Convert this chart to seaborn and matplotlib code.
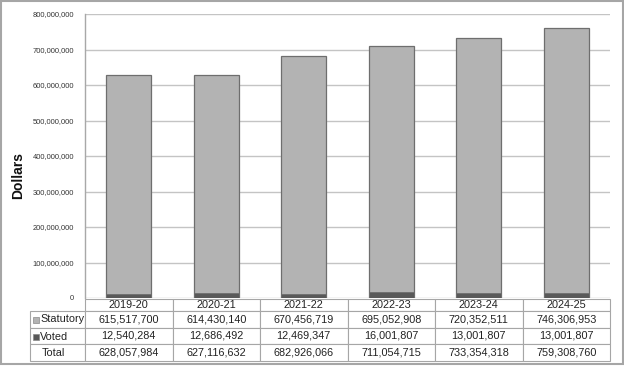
import matplotlib
matplotlib.use("Agg")
import matplotlib.pyplot as plt
from matplotlib.patches import Rectangle
import seaborn as sns

years = ["2019-20", "2020-21", "2021-22", "2022-23", "2023-24", "2024-25"]
statutory = [615517700, 614430140, 670456719, 695052908, 720352511, 746306953]
voted = [12540284, 12686492, 12469347, 16001807, 13001807, 13001807]
total = [628057984, 627116632, 682926066, 711054715, 733354318, 759308760]
row_labels = ["Statutory", "Voted", "Total"]
yticks = [0, 100000000, 200000000, 300000000, 400000000, 500000000,
          600000000, 700000000, 800000000]

sns.set_theme(style="white")
plt.rcParams["font.family"] = ["Liberation Sans", "DejaVu Sans"]

W, H = 624, 367
fig = plt.figure(figsize=(W / 100, H / 100), dpi=100)
fig.patch.set_facecolor("white")

L, R, T, B = 85, 610, 14, 298
ax = fig.add_axes([L / W, (H - B) / H, (R - L) / W, (B - T) / H])

stat_col = "#b3b3b3"
vot_col = "#595959"
edge = "#6e6e6e"

sns.barplot(x=years, y=total, color=stat_col, saturation=1, width=0.51,
            edgecolor=edge, linewidth=0.9, ax=ax, zorder=3)
sns.barplot(x=years, y=voted, color=vot_col, saturation=1, width=0.51,
            edgecolor=edge, linewidth=0.6, ax=ax, zorder=4)

ax.set_ylim(0, 800000000)
ax.set_xlim(-0.5, 5.5)
ax.set_yticks(yticks)
ax.set_yticklabels(["0" if v == 0 else f"{v:,}" for v in yticks],
                   fontsize=5.4, color="#333333")
ax.set_xticks([])
ax.set_xlabel("")
ax.set_ylabel("")
fig.text(18 / W, 1 - 175 / H, "Dollars", rotation=90, ha="center",
         va="center", fontsize=10, fontweight="bold", color="#111111")
ax.grid(axis="y", color="#c4c4c4", linewidth=1.0, zorder=0)
ax.tick_params(axis="y", length=0, pad=8)
for s in ["top", "right", "bottom"]:
    ax.spines[s].set_visible(False)
ax.spines["left"].set_color("#a8a8a8")
ax.spines["left"].set_linewidth(1.0)

# data table
axh = B - T
axw = R - L
tl = 30
y0 = -(361 - B) / axh
y1 = -(299 - B) / axh
rows = [["", *years],
        ["", *[f"{v:,}" for v in statutory]],
        ["", *[f"{v:,}" for v in voted]],
        ["", *[f"{v:,}" for v in total]]]
lw = 55
tbl = ax.table(cellText=rows, cellLoc="center",
               bbox=[-(L - tl) / axw, y0, (R - tl) / axw, y1 - y0])
tbl.auto_set_font_size(False)
tbl.set_fontsize(7.8)
rh = [12, 17, 16, 17]
for (r, c), cell in tbl.get_celld().items():
    cell.set_edgecolor("#a6a6a6")
    cell.set_linewidth(0.8)
    cell.set_height(rh[r] / axh)
    cell.set_width((lw if c == 0 else (R - L) / 6) / axw)
    cell.get_text().set_color("#222222")
    if r == 0 and c == 0:
        cell.visible_edges = ""

# row labels and legend swatches
centers = [319.5, 336.5, 353]
for i, (lab, yc) in enumerate(zip(row_labels, centers)):
    xt = 40 if i < 2 else 42
    ax.text((xt - L) / axw, -(yc - B) / axh, lab, transform=ax.transAxes,
            ha="left", va="center", fontsize=7.8, color="#222222")
for yc, col in [(centers[0], stat_col), (centers[1], vot_col)]:
    ax.add_patch(Rectangle(((33 - L) / axw, -(yc + 3 - B) / axh),
                           6 / axw, 6 / axh, transform=ax.transAxes,
                           facecolor=col, edgecolor="#8a8a8a",
                           linewidth=0.5, clip_on=False, zorder=10))

fig.add_artist(Rectangle((0.5 / W, 3 / H), (W - 2) / W, (H - 4) / H,
                         transform=fig.transFigure, fill=False,
                         edgecolor="#a6a6a6", linewidth=1.5))

fig.savefig("out.png", dpi=100, facecolor="white")
